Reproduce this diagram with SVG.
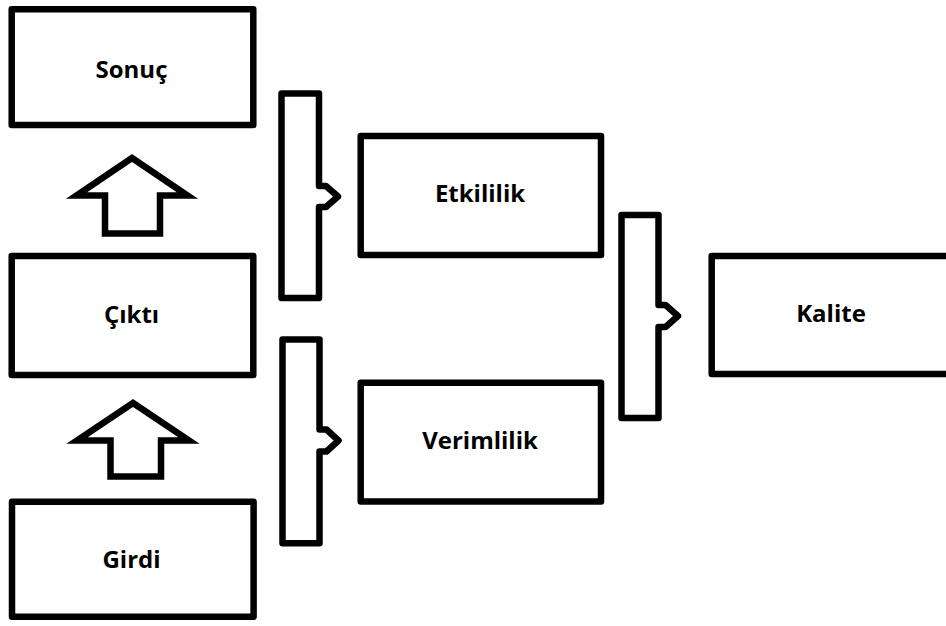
<svg xmlns="http://www.w3.org/2000/svg" width="946" height="626" viewBox="0 0 946 626">
<style>
.box{fill:#fff;stroke:#000;stroke-width:6.5;stroke-linejoin:round}
.lbl{font-family:"Open Sans","Liberation Sans",sans-serif;font-weight:bold;font-size:24px;fill:#000;text-anchor:middle}
.brk{fill:#fff;stroke:#000;stroke-width:6.5;stroke-linejoin:round}
.arr{fill:#fff;stroke:#000;stroke-width:6.5;stroke-linejoin:miter;stroke-miterlimit:6}
</style>
<rect width="946" height="626" fill="#fff"/>
<g id="sonuc"><rect class="box" x="11.7" y="9.3" width="241.6" height="115.7"/><text class="lbl" x="131.5" y="78">Sonuç</text></g>
<g id="cikti"><rect class="box" x="11.7" y="256" width="241.6" height="119"/><text class="lbl" x="131.5" y="323">Çıktı</text></g>
<g id="girdi"><rect class="box" x="12" y="501.7" width="241.6" height="115"/><text class="lbl" x="131.5" y="568">Girdi</text></g>
<g id="etkililik"><rect class="box" x="360.7" y="136" width="240.3" height="119"/><text class="lbl" x="480" y="201.7">Etkililik</text></g>
<g id="verimlilik"><rect class="box" x="360.7" y="382.7" width="240.3" height="118.8"/><text class="lbl" x="480" y="449">Verimlilik</text></g>
<g id="kalite"><rect class="box" x="711.7" y="256" width="260" height="118"/><text class="lbl" x="831" y="321.7">Kalite</text></g>
<g id="connectors">
<polygon class="arr" points="132,158 76.5,195.5 105,195.5 105,233.5 160,233.5 160,195.5 187.5,195.5"/>
<polygon class="arr" points="133,403 77,440.5 110.5,440.5 110.5,476.5 161,476.5 161,440.5 189,440.5"/>
<path class="brk" d="M281.5,93.5 H319 V186 H326 L338,196.5 L326,207 H319 V298 H281.5 Z"/>
<path class="brk" d="M282.5,339.5 H319.5 V429.5 H326.5 L338.5,440.5 L326.5,451.5 H319.5 V543.3 H282.5 Z"/>
<path class="brk" d="M621.5,215 H658.5 V305 H665.5 L678,316 L665.5,327 H658.5 V418 H621.5 Z"/>
</g>
</svg>
